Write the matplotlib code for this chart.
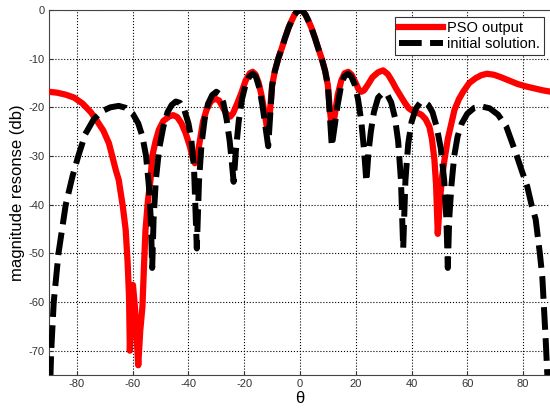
import numpy as np
import matplotlib.pyplot as plt

plt.rcParams['font.family'] = ['Liberation Sans', 'DejaVu Sans']
plt.rcParams['axes.unicode_minus'] = False

# angles (deg) and magnitude (dB)
theta_pso = [-90, -87, -84, -81, -78, -75, -73, -70.5, -68.5, -66, -65, -63.5, -62.5,
             -61.8, -61.3, -61.0, -60.5, -59.9, -59.2, -58.5, -58.0, -57.3, -56.5, -55.9,
             -55.4, -54.5, -53.6, -53, -51.8, -50.6, -49, -47, -45.5, -44, -42.5, -41,
             -39.5, -38.5, -37.7, -36.8, -35.8, -34.8, -33.5, -32, -30.5, -29, -27.5, -26,
             -25, -24, -22.5, -21, -19.5, -18, -17, -16, -14.8, -13.7, -12.6, -11.6, -10.8,
             -10, -9, -7.8, -6.5, -5.4, -4, -3, -2, -1, 0,
             1, 2, 3, 4, 5.4, 6.5, 7.8, 9, 10, 10.8, 11.6, 12.5, 13.5, 14.8, 16, 17.3,
             18.5, 20, 21, 22, 23, 24.5, 26, 28, 29.8, 31.5, 33, 34.5, 36, 37.5, 39, 40.5,
             42, 43.5, 45, 46.4, 47.3, 48.2, 48.8, 49.4, 50.2, 51, 51.8, 53, 54.2, 55.4,
             57, 58.5, 60.7, 63, 65, 67, 69.5, 72, 75, 78, 81, 84, 87, 90]
af_pso = [-16.8, -17.0, -17.4, -18.0, -19.2, -21, -22.6, -24.8, -27.4, -33, -34.9, -40.5, -45.2,
          -52, -59, -70, -62, -56.5, -61, -68, -73, -66, -61, -52,
          -45.2, -39, -34.9, -30.1, -27, -24.6, -22.8, -21.9, -21.6, -22, -23.3, -25.3,
          -28, -30.3, -31.5, -30, -26.5, -23, -20.5, -18.8, -18.2, -18.6, -20.2, -21.7,
          -21.9, -21.2, -19.2, -17, -14.5, -13.0, -12.7, -13.2, -15, -17.8, -21.5, -25, -21,
          -15.5, -12.5, -10, -7.8, -5.8, -3.5, -2.2, -1, -0.25, 0,
          -0.25, -1, -2.2, -3.5, -5.8, -7.8, -10, -12.5, -15.5, -21, -25, -21.5, -17.5, -14.5, -13, -12.7,
          -13.3, -15, -16.3, -16.8, -16.5, -15.2, -13.8, -12.8, -12.4, -13.2, -14.6, -16.2, -17.6, -19, -20.2, -20.8,
          -21.1, -21.5, -22.4, -24, -26.5, -30.8, -36, -46, -39, -34, -30.8, -26.5, -23.5, -20.5,
          -18.3, -16.8, -15, -14, -13.4, -13.1, -13.3, -13.8, -14.5, -15.2, -15.7, -16.1, -16.5, -16.8]

theta_init = [-90, -89.2, -88.3, -86.6, -84, -81.5, -79.5, -77, -74, -71, -68, -65, -62.5,
              -60, -58, -56.5, -55.2, -54.2, -53.5, -53, -52.5, -51.7, -50.5, -49, -47.5,
              -46, -44.5, -43, -41.5, -40, -39, -38, -37, -36.2, -35.3, -34.2, -33, -31.5,
              -30, -28.8, -27.5, -26.3, -25.2, -24.5, -23.8, -23, -22, -20.8, -19.5, -18.2,
              -17, -15.8, -14.6, -13.5, -12.5, -11.4, -10.6, -10, -9, -7.8, -6.5, -5.4, -4,
              -3, -2, -1, 0,
              1, 2, 3, 4, 5.4, 6.5, 7.8, 9, 10, 10.6, 11.4, 12.5, 13.5, 14.6, 15.8, 17.2,
              18.4, 19.6, 20.8, 22, 23, 23.8, 24.6, 25.4, 26.5, 28, 29.8, 31.3, 32.7, 34,
              35.2, 36.2, 37, 37.8, 38.8, 40, 41.5, 43, 44.5, 46, 47.5, 49, 50.5, 51.7,
              52.5, 53, 53.5, 54.3, 55.3, 56.5, 58, 60, 62.5, 65, 68, 71, 74, 77.4, 79.5,
              81.5, 83, 84.5, 86, 86.9, 88.1, 88.6, 89.2, 90]
af_init = [-85, -70, -60, -50, -40, -34, -30, -25.5, -22.5, -20.8, -20.0, -19.7, -20.1,
           -21.3, -23.3, -26, -30, -36, -43, -53, -43, -35, -28.5, -24, -21,
           -19.5, -18.8, -19.1, -20.5, -23.3, -26.5, -32.5, -49, -35, -27.5, -22.5, -19.3, -17.5,
           -16.8, -17.3, -19, -22.5, -27, -31, -35.3, -29, -23, -18.3, -15.3, -13.7,
           -13.1, -13.7, -16, -19.5, -23.5, -28, -21, -15.5, -12.5, -10, -7.8, -5.8, -3.5,
           -2.2, -1, -0.25, 0,
           -0.25, -1, -2.2, -3.5, -5.8, -7.8, -10, -12.5, -15.5, -21, -28, -23.5, -19.5, -16, -13.7, -13.1,
           -13.7, -15.3, -18.3, -23, -29, -35.3, -29, -25, -21, -18, -17, -17.4, -19, -22,
           -27, -35, -49, -35, -27.5, -23, -20.3, -19.1, -18.9, -19.5, -21, -24, -28.5, -35,
           -43, -53, -43, -36, -30, -26, -23.3, -21.3, -20.1, -19.8, -20.2, -21.5, -24, -29.4, -33,
           -36.3, -40, -43, -50, -55, -67.8, -74, -80, -90]

fig = plt.figure(figsize=(5.5, 4.09), dpi=100, facecolor='white')
ax = fig.add_axes([49/550, 34/409, 502/550, 365/409])

ax.plot(theta_pso, af_pso, color='red', linewidth=4.5, label='PSO output', zorder=3)
ax.plot(theta_init, af_init, color='black', linewidth=4.3, linestyle=(0, (3.8, 1.4)),
        label='initial solution.', zorder=4)

ax.set_xlim(-90, 90)
ax.set_ylim(-75, 0)
ax.set_xticks(np.arange(-80, 81, 20))
ax.set_yticks(np.arange(-70, 1, 10))
ax.tick_params(direction='in', labelsize=8, colors='#333333', length=3, pad=3)
ax.grid(True, linestyle=':', color='black', linewidth=0.8)
for s in ax.spines.values():
    s.set_color('#444444')

ax.set_xlabel('θ', fontsize=12, labelpad=1)
ax.set_ylabel('magnitude resonse (db)', fontsize=12, labelpad=3)

leg = ax.legend(loc='upper right', fontsize=10.5, fancybox=False, framealpha=1,
                edgecolor='#333333', handlelength=3.0, borderaxespad=0.5,
                borderpad=0.25, labelspacing=0.15, handletextpad=0.3)
leg.get_frame().set_linewidth(0.8)

plt.savefig('out.png', dpi=100)
